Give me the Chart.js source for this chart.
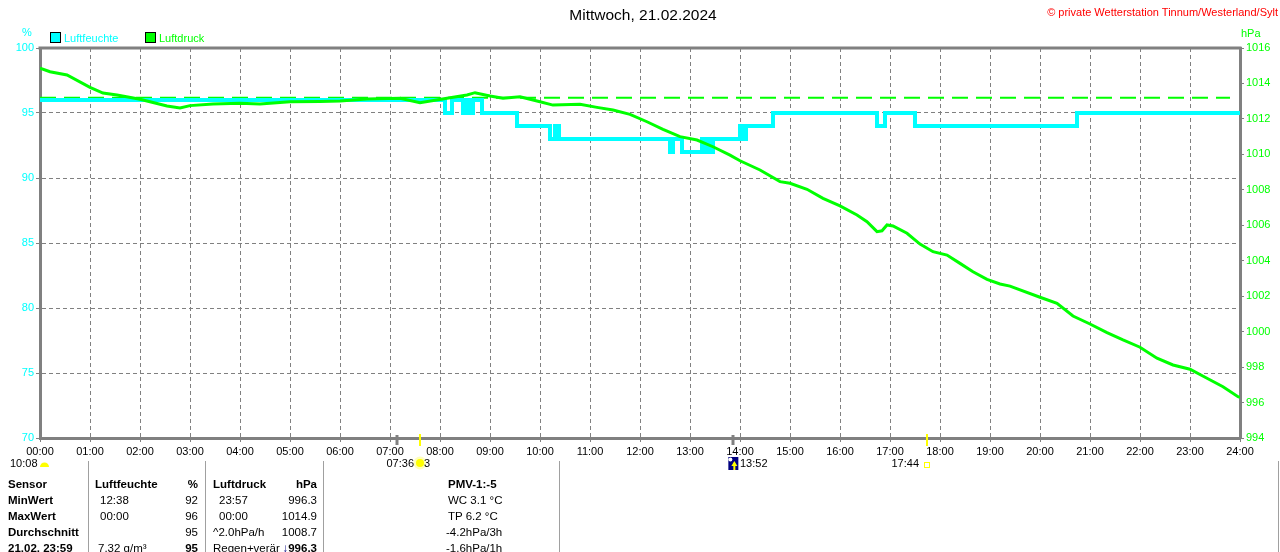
<!DOCTYPE html>
<html>
<head>
<meta charset="utf-8">
<script src="https://cdn.jsdelivr.net/npm/chart.js@4.4.1/dist/chart.umd.min.js"></script>
<style>
  body { margin: 0; background: #fff; }
  #wrap { position: relative; width: 1280px; height: 552px; overflow: hidden;
          font-family: "Liberation Sans", Arial, sans-serif; font-size: 11px; color: #000; }
  canvas { position: absolute; left: 0; top: 0; }
  .t { position: absolute; white-space: nowrap; line-height: 14px; }
  .b { font-weight: bold; }
  .tb .t { font-size: 11.5px; }
  .sep { position: absolute; width: 1px; background: #a0a0a0; top: 461px; height: 91px; }
  .box { position: absolute; width: 9px; height: 9px; border: 1px solid #000; top: 32px; }
</style>
</head>
<body>
<div id="wrap">
  <canvas id="myChart" width="1280" height="552"></canvas>

  <div class="t" style="left:0;width:1286px;text-align:center;top:7px;font-size:15.5px;line-height:16px;">Mittwoch, 21.02.2024</div>
  <div class="t" style="right:2px;top:5px;color:#ff0000;font-size:11px;">© private Wetterstation Tinnum/Westerland/Sylt</div>

  <div class="t" style="left:22px;top:25px;color:#00ffff;">%</div>
  <div class="t" style="left:1241px;top:26px;color:#00ff00;">hPa</div>

  <div class="box" style="left:50px;background:#00ffff;"></div>
  <div class="t" style="left:64px;top:31px;color:#00ffff;">Luftfeuchte</div>
  <div class="box" style="left:145px;background:#00ff00;"></div>
  <div class="t" style="left:159px;top:31px;color:#00ff00;">Luftdruck</div>

  <!-- sun / moon times under the x axis -->
  <div class="t" style="left:10px;top:456px;">10:08</div>
  <div class="t" style="right:866px;top:456px;">07:36</div>
  <div class="t" style="left:424px;top:456px;">3</div>
  <div class="t" style="left:740px;top:456px;">13:52</div>
  <div class="t" style="right:361px;top:456px;">17:44</div>

  <!-- table -->
  <div class="tb">
  <div class="sep" style="left:88px;"></div>
  <div class="sep" style="left:205px;"></div>
  <div class="sep" style="left:323px;"></div>
  <div class="sep" style="left:559px;"></div>
  <div class="sep" style="left:1278px;"></div>

  <div class="t b" style="left:8px;top:477px;">Sensor</div>
  <div class="t b" style="left:8px;top:493px;">MinWert</div>
  <div class="t b" style="left:8px;top:509px;">MaxWert</div>
  <div class="t b" style="left:8px;top:525px;">Durchschnitt</div>
  <div class="t b" style="left:8px;top:541px;">21.02. 23:59</div>

  <div class="t b" style="left:95px;top:477px;">Luftfeuchte</div>
  <div class="t" style="left:100px;top:493px;">12:38</div>
  <div class="t" style="left:100px;top:509px;">00:00</div>
  <div class="t" style="left:98px;top:541px;">7.32 g/m³</div>

  <div class="t b" style="right:1082px;top:477px;">%</div>
  <div class="t" style="right:1082px;top:493px;">92</div>
  <div class="t" style="right:1082px;top:509px;">96</div>
  <div class="t" style="right:1082px;top:525px;">95</div>
  <div class="t b" style="right:1082px;top:541px;">95</div>

  <div class="t b" style="left:213px;top:477px;">Luftdruck</div>
  <div class="t" style="left:219px;top:493px;">23:57</div>
  <div class="t" style="left:219px;top:509px;">00:00</div>
  <div class="t" style="left:213px;top:525px;">^2.0hPa/h</div>
  <div class="t" style="left:213px;top:541px;">Regen+verär</div>

  <div class="t b" style="right:963px;top:477px;">hPa</div>
  <div class="t" style="right:963px;top:493px;">996.3</div>
  <div class="t" style="right:963px;top:509px;">1014.9</div>
  <div class="t" style="right:963px;top:525px;">1008.7</div>
  <div class="t b" style="right:963px;top:541px;"><span style="color:#000080;">↓</span>996.3</div>

  <div class="t b" style="left:448px;top:477px;">PMV-1:-5</div>
  <div class="t" style="left:448px;top:493px;">WC 3.1 °C</div>
  <div class="t" style="left:448px;top:509px;">TP 6.2 °C</div>
  <div class="t" style="left:446px;top:525px;">-4.2hPa/3h</div>
  <div class="t" style="left:446px;top:541px;">-1.6hPa/1h</div>
  </div>
</div>

<script>
// x axis labels, one per hour
const hourLabels = ['00:00', '01:00', '02:00', '03:00', '04:00', '05:00', '06:00', '07:00',
                    '08:00', '09:00', '10:00', '11:00', '12:00', '13:00', '14:00', '15:00',
                    '16:00', '17:00', '18:00', '19:00', '20:00', '21:00', '22:00', '23:00', '24:00'];

// Luftfeuchte (%): time in hours where the value changes, and the new value
const humT = [0, 8.1, 8.24, 8.46, 8.54, 8.58, 8.66, 8.84, 9.54, 10.2, 10.3, 10.38,
              12.6, 12.66, 12.84, 13.24, 13.3, 13.34, 13.38, 13.46, 14.0, 14.04, 14.12,
              14.66, 16.74, 16.9, 17.5, 20.74, 24];
const humV = [96, 95, 96, 95, 96, 95, 96, 95, 94, 93, 94, 93,
              92, 93, 92, 93, 92, 93, 92, 93, 94, 93, 94,
              95, 94, 95, 94, 95, 95];

// Luftdruck (hPa)
const pressT = [0, 0.2, 0.54, 1.0, 1.26, 1.54, 2.0, 2.54, 2.8, 3.0, 3.46, 4.0, 4.4, 5.0, 5.6,
                6.0, 6.54, 7.2, 7.6, 8.14, 8.54, 8.7, 9.0, 9.26, 9.6, 10.0, 10.26, 10.8, 11.14,
                11.46, 11.8, 12.14, 12.46, 12.8, 13.14, 13.46, 13.8, 14.0, 14.4, 14.8, 15.0,
                15.34, 15.66, 16.0, 16.34, 16.54, 16.74, 16.84, 16.94, 17.06, 17.34, 17.6,
                17.86, 18.14, 18.4, 18.66, 18.94, 19.2, 19.4, 20.0, 20.34, 20.66, 21.0, 21.34,
                21.66, 22.0, 22.34, 22.66, 23.0, 23.34, 23.66, 23.96, 24.0];
const pressV = [1014.87, 1014.66, 1014.48, 1013.78, 1013.46, 1013.35, 1013.11, 1012.73, 1012.62,
                1012.75, 1012.84, 1012.88, 1012.84, 1012.97, 1012.98, 1013.01, 1013.12, 1013.16,
                1012.91, 1013.16, 1013.35, 1013.48, 1013.29, 1013.16, 1013.25, 1012.97, 1012.78,
                1012.82, 1012.65, 1012.50, 1012.26, 1011.84, 1011.41, 1011.00, 1010.81, 1010.43,
                1009.96, 1009.64, 1009.12, 1008.46, 1008.37, 1008.03, 1007.52, 1007.09, 1006.58,
                1006.20, 1005.64, 1005.69, 1006.02, 1005.96, 1005.55, 1004.94, 1004.51, 1004.32,
                1003.85, 1003.38, 1002.95, 1002.69, 1002.57, 1001.94, 1001.60, 1000.88, 1000.43,
                999.94, 999.53, 999.12, 998.50, 998.12, 997.88, 997.37, 996.89, 996.33, 996.3];

// reference line (normal pressure) and its extent in hours
const refPressure = 1013.2;
const refT = [0, 23.8];

// sun and moon times in hours
const sunrise = 7.6;     // 07:36
const sunset = 17.733;   // 17:44
const moonrise = 13.867; // 13:52
const moonset = 7.133;

const toPoints = (xs, ys) => xs.map((x, i) => ({x: x, y: ys[i]}));
const gray = '#808080';

const marks = {
  id: 'marks',
  afterDraw(chart) {
    const {ctx, chartArea: a, scales: {x}} = chart;
    ctx.save();
    // top frame
    ctx.strokeStyle = gray;
    ctx.lineWidth = 3;
    ctx.beginPath();
    ctx.moveTo(a.left - 1.5, a.top);
    ctx.lineTo(a.right + 1.5, a.top);
    ctx.stroke();

    // moon ticks
    [moonset, moonrise].forEach(t => {
      const px = Math.round(x.getPixelForValue(t));
      ctx.beginPath();
      ctx.moveTo(px, a.bottom - 3);
      ctx.lineTo(px, a.bottom + 7);
      ctx.stroke();
    });

    // sunrise / sunset lines
    ctx.strokeStyle = '#ffff00';
    ctx.lineWidth = 2;
    [sunrise, sunset].forEach(t => {
      const px = Math.round(x.getPixelForValue(t));
      ctx.beginPath();
      ctx.moveTo(px, a.bottom - 4);
      ctx.lineTo(px, a.bottom + 8);
      ctx.stroke();
    });

    // day length icon (half sun)
    const x0 = x.getPixelForValue(0) + 4.5;
    ctx.fillStyle = '#ffff00';
    ctx.beginPath();
    ctx.arc(x0, a.bottom + 29, 4.5, Math.PI, 0);
    ctx.fill();

    // sunrise icon
    const xr = x.getPixelForValue(sunrise);
    ctx.fillStyle = 'rgba(255,255,140,0.6)';
    ctx.beginPath();
    ctx.arc(xr, a.bottom + 25, 6.5, 0, Math.PI * 2);
    ctx.fill();
    ctx.fillStyle = '#ffff00';
    ctx.beginPath();
    ctx.arc(xr, a.bottom + 25, 4, 0, Math.PI * 2);
    ctx.fill();

    // moonrise icon
    const xm = x.getPixelForValue(moonrise);
    ctx.fillStyle = '#000080';
    ctx.fillRect(xm - 5, a.bottom + 19, 10, 13);
    ctx.fillStyle = '#ffffff';
    ctx.beginPath();
    ctx.arc(xm - 3, a.bottom + 21.5, 2, 0, Math.PI * 2);
    ctx.fill();
    ctx.fillStyle = '#ffff00';
    ctx.beginPath();
    ctx.moveTo(xm + 1, a.bottom + 23);
    ctx.lineTo(xm - 2, a.bottom + 28);
    ctx.lineTo(xm + 4, a.bottom + 28);
    ctx.closePath();
    ctx.fill();
    ctx.fillRect(xm, a.bottom + 28, 2, 4);

    // sunset icon
    const xs = x.getPixelForValue(sunset);
    ctx.strokeStyle = '#ffff00';
    ctx.lineWidth = 1;
    ctx.strokeRect(Math.round(xs) - 2.5, a.bottom + 24.5, 5, 5);
    ctx.restore();
  }
};

const ctx = document.getElementById('myChart');

const myChart = new Chart(ctx, {
  type: 'line',
  data: {
    datasets: [
      {
        label: 'Luftdruck',
        data: toPoints(pressT, pressV),
        yAxisID: 'y2',
        borderColor: '#00ff00',
        borderWidth: 3,
        pointRadius: 0,
        tension: 0
      },
      {
        label: 'Luftfeuchte',
        data: toPoints(humT, humV),
        yAxisID: 'y',
        borderColor: '#00ffff',
        borderWidth: 4,
        pointRadius: 0,
        stepped: true
      },
      {
        label: 'Normaldruck',
        data: toPoints(refT, refT.map(() => refPressure)),
        yAxisID: 'y2',
        borderColor: '#00ff00',
        borderWidth: 2,
        borderDash: [16, 8],
        pointRadius: 0
      }
    ]
  },
  options: {
    responsive: false,
    animation: false,
    devicePixelRatio: 1,
    layout: { padding: { top: 48, bottom: 94, left: 0, right: 0 } },
    plugins: { legend: { display: false }, tooltip: { enabled: false } },
    scales: {
      x: {
        type: 'linear',
        min: 0,
        max: 24,
        afterFit: s => { s.height = 20; },
        ticks: {
          stepSize: 1,
          autoSkip: false,
          maxRotation: 0,
          color: '#000',
          padding: 3,
          font: { family: 'Liberation Sans', size: 11 },
          callback: v => hourLabels[Math.round(v)]
        },
        grid: { color: gray, tickLength: 4, tickColor: gray },
        border: { color: gray, width: 3, dash: [4, 3] }
      },
      y: {
        position: 'left',
        min: 70,
        max: 100,
        afterFit: s => { s.width = 40; },
        ticks: {
          stepSize: 5,
          color: '#00ffff',
          padding: 2,
          font: { family: 'Liberation Sans', size: 11 },
          callback: v => String(v)
        },
        grid: { color: gray, tickLength: 4, tickColor: gray },
        border: { color: gray, width: 3, dash: [4, 3] }
      },
      y2: {
        position: 'right',
        min: 994,
        max: 1016,
        afterFit: s => { s.width = 40; },
        ticks: {
          stepSize: 2,
          color: '#00ff00',
          padding: 2,
          font: { family: 'Liberation Sans', size: 11 },
          callback: v => String(v)
        },
        grid: { drawOnChartArea: false, color: gray, tickLength: 4 },
        border: { color: gray, width: 3 }
      }
    }
  },
  plugins: [marks]
});
</script>
</body>
</html>
